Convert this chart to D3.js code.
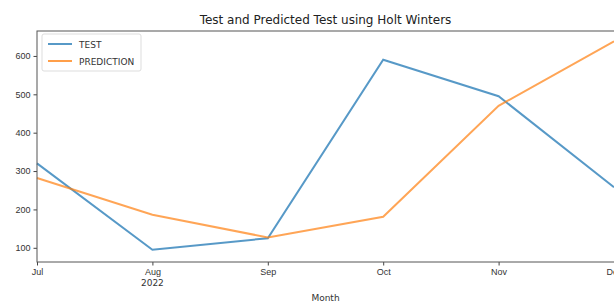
<!DOCTYPE html>
<html>
<head>
<meta charset="utf-8">
<script src="https://cdn.jsdelivr.net/npm/d3@7"></script>
<style>
    body { margin: 0; background: #fff; }
    svg { font-family: "DejaVu Sans", sans-serif; }
    .tick text { font-size: 9px; fill: #333; }
</style>
</head>
<body>
<div id="chart"></div>
<script>
// data
var months = ["Jul", "Aug", "Sep", "Oct", "Nov", "Dec"];
var testValues = [320, 95, 125, 590, 495, 258];
var predValues = [282, 186, 127, 181, 470, 638];
var yTicks = [100, 200, 300, 400, 500, 600];

var width = 614;
var height = 305;

var svg = d3
    .select("#chart")
    .append("svg")
    .attr("width", width)
    .attr("height", height);

// plot area edges (named so they don't clash with window.top)
var plotLeft = 37, plotRight = 614, plotTop = 31, plotBottom = 262;

var xRange = d3
    .scalePoint()
    .domain(months)
    .range([plotLeft, plotRight]);

var yRange = d3
    .scaleLinear()
    .domain([63, 665])
    .range([plotBottom, plotTop]);

// axes
var xAxis = d3.axisBottom(xRange).tickSize(3.5).tickPadding(3);
var yAxis = d3.axisLeft(yRange).tickValues(yTicks).tickSize(3.5).tickPadding(3);

var gx = svg
    .append("g")
    .attr("transform", "translate(0," + plotBottom + ")")
    .call(xAxis);
gx.select(".domain").remove();
gx.selectAll("line").attr("stroke", "#444");

// year label under Aug
svg
    .append("text")
    .attr("x", xRange("Aug"))
    .attr("y", plotBottom + 24)
    .attr("text-anchor", "middle")
    .attr("font-size", 9)
    .attr("fill", "#333")
    .text("2022");

var gy = svg
    .append("g")
    .attr("transform", "translate(" + plotLeft + ",0)")
    .call(yAxis);
gy.select(".domain").remove();
gy.selectAll("line").attr("stroke", "#444");

// lines
var line = d3
    .line()
    .x(function(d, i) { return xRange(months[i]); })
    .y(function(d) { return yRange(d); });

svg
    .append("path")
    .datum(testValues)
    .attr("d", line)
    .attr("fill", "none")
    .attr("stroke", "#1f77b4")
    .attr("stroke-opacity", 0.75)
    .attr("stroke-width", 2);

svg
    .append("path")
    .datum(predValues)
    .attr("d", line)
    .attr("fill", "none")
    .attr("stroke", "#ff7f0e")
    .attr("stroke-opacity", 0.7)
    .attr("stroke-width", 2);

// frame
svg
    .append("rect")
    .attr("x", plotLeft)
    .attr("y", plotTop)
    .attr("width", plotRight - plotLeft + 2)
    .attr("height", plotBottom - plotTop)
    .attr("fill", "none")
    .attr("stroke", "#555")
    .attr("stroke-width", 1);

// title and axis label
svg
    .append("text")
    .attr("x", (plotLeft + plotRight) / 2)
    .attr("y", 24)
    .attr("text-anchor", "middle")
    .attr("font-size", 12)
    .attr("fill", "#222")
    .text("Test and Predicted Test using Holt Winters");

svg
    .append("text")
    .attr("x", (plotLeft + plotRight) / 2)
    .attr("y", 301)
    .attr("text-anchor", "middle")
    .attr("font-size", 9)
    .attr("fill", "#333")
    .text("Month");

// legend
var legend = svg.append("g").attr("transform", "translate(42,34)");

legend
    .append("rect")
    .attr("width", 99)
    .attr("height", 37)
    .attr("rx", 2)
    .attr("fill", "#fff")
    .attr("fill-opacity", 0.8)
    .attr("stroke", "#ddd");

var names = ["TEST", "PREDICTION"];
var colors = ["#1f77b4", "#ff7f0e"];

names.forEach(function(n, i) {
    legend
        .append("line")
        .attr("x1", 6)
        .attr("x2", 30)
        .attr("y1", 10 + i * 17)
        .attr("y2", 10 + i * 17)
        .attr("stroke", colors[i])
        .attr("stroke-opacity", 0.75)
        .attr("stroke-width", 2);
    legend
        .append("text")
        .attr("x", 37)
        .attr("y", 13.5 + i * 17)
        .attr("font-size", 9)
        .attr("fill", "#333")
        .text(n);
});
</script>
</body>
</html>
